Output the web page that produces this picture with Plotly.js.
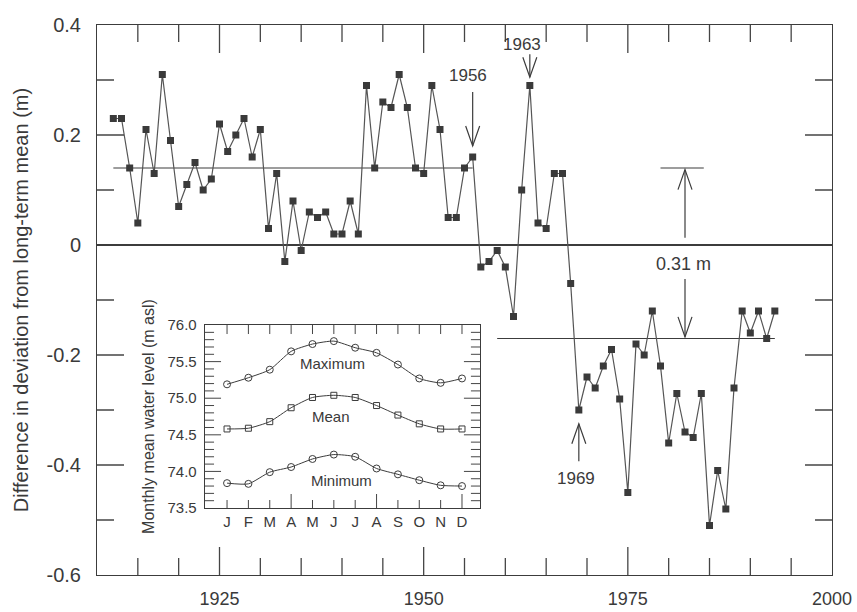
<!DOCTYPE html>
<html><head><meta charset="utf-8">
<script src="https://cdn.plot.ly/plotly-3.0.1.min.js"></script>
<style>html,body{margin:0;padding:0;background:#fff}#chart{width:857px;height:612px}</style>
</head><body><div id="chart"></div>
<script>
// ---- Main series: yearly deviation (m) ----
const years = [1912,1913,1914,1915,1916,1917,1918,1919,1920,1921,1922,1923,1924,1925,1926,1927,1928,1929,1930,
  1931,1932,1933,1934,1935,1936,1937,1938,1939,1940,1941,1942,1943,1944,1945,1946,1947,1948,1949,1950,
  1951,1952,1953,1954,1955,1956,1957,1958,1959,1960,1961,1962,1963,1964,1965,1966,1967,1968,1969,1970,
  1971,1972,1973,1974,1975,1976,1977,1978,1979,1980,1981,1982,1983,1984,1985,1986,1987,1988,1989,1990,
  1991,1992,1993];
const deviation = [0.23,0.23,0.14,0.04,0.21,0.13,0.31,0.19,0.07,0.11,0.15,0.10,0.12,0.22,0.17,0.20,0.23,0.16,0.21,
  0.03,0.13,-0.03,0.08,-0.01,0.06,0.05,0.06,0.02,0.02,0.08,0.02,0.29,0.14,0.26,0.25,0.31,0.25,0.14,0.13,
  0.29,0.21,0.05,0.05,0.14,0.16,-0.04,-0.03,-0.01,-0.04,-0.13,0.10,0.29,0.04,0.03,0.13,0.13,-0.07,-0.30,-0.24,
  -0.26,-0.22,-0.19,-0.28,-0.45,-0.18,-0.20,-0.12,-0.22,-0.36,-0.27,-0.34,-0.35,-0.27,-0.51,-0.41,-0.48,-0.26,-0.12,-0.16,
  -0.12,-0.17,-0.12];
// period means
const earlyPeriod = [1912, 1956];
const earlyMean = [0.14, 0.14];
const latePeriod = [1959, 1993];
const lateMean = [-0.17, -0.17];
const yTickVals = [-0.6, -0.4, -0.2, 0, 0.2, 0.4];
const yTickText = ['-0.6', '-0.4', '-0.2', '0', '0.2', '0.4'];
const xTickVals = [1925, 1950, 1975, 2000];
const xTickText = ['1925', '1950', '1975', '2000'];
// tick-mark positions
const xMinorTicks = [1915,1920,1930,1935,1940,1945,1955,1960,1965,1970,1980,1985,1990,1995];
const xMajorTicks = [1925,1950,1975];
const yMinorTicks = [-0.5,-0.3,-0.1,0.1,0.3];
const yMajorTicks = [-0.4,-0.2,0.2];

// ---- Inset: monthly water level (m asl) ----
const months = [1,2,3,4,5,6,7,8,9,10,11,12];
const monthLabels = ['J','F','M','A','M','J','J','A','S','O','N','D'];
const maxLevel  = [75.19,75.28,75.39,75.64,75.74,75.78,75.69,75.62,75.46,75.27,75.21,75.27];
const meanLevel = [74.58,74.59,74.68,74.87,75.01,75.04,75.01,74.90,74.77,74.65,74.58,74.58];
const minLevel  = [73.84,73.83,73.99,74.06,74.17,74.23,74.20,74.04,73.96,73.88,73.81,73.80];
const insetTickVals = [73.5, 74.0, 74.5, 75.0, 75.5, 76.0];
const insetTickText = ['73.5', '74.0', '74.5', '75.0', '75.5', '76.0'];
const insetLongTickMonths = [4, 8, 12];
const insetShortTickMonths = [1, 2, 3, 5, 6, 7, 9, 10, 11];
const insetMinorTicks = [73.6,73.7,73.8,73.9,74.1,74.2,74.3,74.4,74.6,74.7,74.8,74.9,75.1,75.2,75.3,75.4,75.6,75.7,75.8,75.9];
const insetMajorTicks = [74.0, 74.5, 75.0, 75.5];

const INK = '#3a3a3a';
const LINE = '#3c3c3c';
const TICK = '#454545';
const FONT = 'Liberation Sans, Arial, Helvetica, sans-serif';
const NB = '\u00a0';

const traces = [
  {x: earlyPeriod, y: earlyMean, mode: 'lines', line: {color: LINE, width: 1.2}, hoverinfo: 'skip'},
  {x: latePeriod, y: lateMean, mode: 'lines', line: {color: LINE, width: 1.2}, hoverinfo: 'skip'},
  {x: years, y: deviation, mode: 'lines+markers',
   line: {color: '#555', width: 1.2},
   marker: {symbol: 'square', size: 7, color: INK}},
  {x: months, y: maxLevel, xaxis: 'x2', yaxis: 'y2', mode: 'lines+markers',
   line: {color: LINE, width: 1, shape: 'spline', smoothing: 0.6},
   marker: {symbol: 'circle-open', size: 7, color: LINE, line: {width: 1}}},
  {x: months, y: meanLevel, xaxis: 'x2', yaxis: 'y2', mode: 'lines+markers',
   line: {color: LINE, width: 1, shape: 'spline', smoothing: 0.6},
   marker: {symbol: 'square-open', size: 6, color: LINE, line: {width: 1}}},
  {x: months, y: minLevel, xaxis: 'x2', yaxis: 'y2', mode: 'lines+markers',
   line: {color: LINE, width: 1, shape: 'spline', smoothing: 0.6},
   marker: {symbol: 'circle-open', size: 7, color: LINE, line: {width: 1}}},
  // carrier for the label-only overlay axes
  {x: [], y: [], xaxis: 'x3', yaxis: 'y3', mode: 'markers', hoverinfo: 'skip'}
];

// ---- inside tick marks: line markers centred on the frame, clipped to the plot area ----
// a line-ns / line-ew marker is 1.4 x size long, so half of it (0.7 x size) shows inside
function tickTrace(positions, edge, vertical, len, xa, ya, w) {
  const n = positions.length;
  const t = {mode: 'markers', hoverinfo: 'skip', cliponaxis: true,
    marker: {symbol: vertical ? 'line-ns-open' : 'line-ew-open', size: len / 0.7,
             color: TICK, line: {color: TICK, width: w}}};
  if (xa) t.xaxis = xa;
  if (ya) t.yaxis = ya;
  if (vertical) { t.x = positions; t.y = new Array(n).fill(edge); }
  else { t.y = positions; t.x = new Array(n).fill(edge); }
  return t;
}
[-0.6, 0.4].forEach(e => {
  traces.push(tickTrace(xMinorTicks, e, true, 17, null, null, 1.3));
  traces.push(tickTrace(xMajorTicks, e, true, 28, null, null, 1.3));
});
[1910, 2000].forEach(e => {
  traces.push(tickTrace(yMinorTicks, e, false, 17, null, null, 1.3));
  traces.push(tickTrace(yMajorTicks, e, false, 27, null, null, 1.3));
});
traces.push(tickTrace(insetShortTickMonths, 73.5, true, 8, 'x2', 'y2', 1));
traces.push(tickTrace(insetLongTickMonths, 73.5, true, 14, 'x2', 'y2', 1));
traces.push(tickTrace(months, 76.0, true, 9, 'x2', 'y2', 1));
[-0.03, 12.84].forEach(e => {
  traces.push(tickTrace(insetMinorTicks, e, false, 9, 'x2', 'y2', 1));
  traces.push(tickTrace(insetMajorTicks, e, false, 16, 'x2', 'y2', 1));
});

// ---- arrows ----
function shaft(x, y0, y1) {
  return {type: 'line', xref: 'x', yref: 'y', x0: x, x1: x, y0: y0, y1: y1,
          line: {color: LINE, width: 1.2}};
}
function head(x, y, dir) {
  const s = dir === 'down' ? 20 : -20;
  return {type: 'path', xref: 'x', yref: 'y', xsizemode: 'pixel', ysizemode: 'pixel',
          xanchor: x, yanchor: y, path: 'M-7,' + s + 'L0,0L7,' + s,
          line: {color: LINE, width: 1.2}};
}
const shapes = [
  shaft(1956, 0.278, 0.18), head(1956, 0.18, 'down'),
  shaft(1963, 0.347, 0.305), head(1963, 0.305, 'down'),
  shaft(1969, -0.393, -0.325), head(1969, -0.325, 'up'),
  {type: 'line', xref: 'x', yref: 'y', x0: 1979, x1: 1984.3, y0: 0.14, y1: 0.14, line: {color: LINE, width: 1.2}},
  shaft(1982, 0.013, 0.137), head(1982, 0.137, 'up'),
  shaft(1982, -0.062, -0.167), head(1982, -0.167, 'down')
];

function label(text, x, y, size, xref, yref) {
  return {text: text, x: x, y: y, xref: xref || 'x', yref: yref || 'y', showarrow: false,
          font: {family: FONT, size: size, color: INK}};
}
const annotations = [
  label('1956', 1955.4, 0.309, 17),
  label('1963', 1962.0, 0.365, 17),
  label('1969', 1968.6, -0.424, 17),
  label('0.31 m', 1981.8, -0.035, 18),
  label('Maximum', 5.92, 75.48, 15, 'x2', 'y2'),
  label('Mean', 5.87, 74.75, 15, 'x2', 'y2'),
  label('Minimum', 6.34, 73.87, 15, 'x2', 'y2')
];

const layout = {
  width: 857, height: 612,
  margin: {l: 97, r: 25, t: 25, b: 37},
  paper_bgcolor: '#fff', plot_bgcolor: '#fff',
  showlegend: false,
  font: {family: FONT, color: INK},
  xaxis: {
    range: [1910, 2000], domain: [0, 1], anchor: 'y',
    showticklabels: false, ticks: '',
    showline: true, linecolor: LINE, linewidth: 1.2, mirror: true,
    showgrid: false, zeroline: false
  },
  yaxis: {
    range: [-0.6, 0.4], domain: [0, 1], anchor: 'x',
    showticklabels: false, ticks: '',
    showline: true, linecolor: LINE, linewidth: 1.2, mirror: true,
    showgrid: false, zeroline: true, zerolinecolor: LINE, zerolinewidth: 1.2
  },
  // overlay axes that carry the main tick labels and title
  xaxis3: {
    overlaying: 'x', anchor: 'y3', side: 'bottom', range: [1910, 2000],
    tickmode: 'array', tickvals: xTickVals, ticktext: xTickText,
    ticks: 'outside', ticklen: 7, tickcolor: 'rgba(0,0,0,0)',
    showline: false, showgrid: false, zeroline: false,
    tickfont: {family: FONT, size: 18, color: INK}
  },
  yaxis3: {
    overlaying: 'y', anchor: 'x3', side: 'left', range: [-0.6, 0.4],
    tickmode: 'array', tickvals: yTickVals, ticktext: yTickText,
    ticks: 'outside', ticklen: 11, tickcolor: 'rgba(0,0,0,0)',
    showline: false, showgrid: false, zeroline: false,
    tickfont: {family: FONT, size: 20, color: INK},
    title: {text: 'Difference in deviation from long-term mean (m)', font: {family: FONT, size: 20, color: INK}, standoff: 12}
  },
  xaxis2: {
    domain: [0.147, 0.521], anchor: 'y2', range: [-0.03, 12.84],
    tickmode: 'array', tickvals: months, ticktext: monthLabels, ticks: '',
    showline: true, linecolor: LINE, linewidth: 1.2, mirror: true,
    showgrid: false, zeroline: false,
    tickfont: {family: FONT, size: 15, color: INK}
  },
  yaxis2: {
    domain: [0.1218, 0.4545], anchor: 'x2', range: [73.5, 76.0],
    tickmode: 'array', tickvals: insetTickVals, ticktext: insetTickText.map(t => t + NB), ticks: '',
    showline: true, linecolor: LINE, linewidth: 1.2, mirror: true,
    showgrid: false, zeroline: false,
    tickfont: {family: FONT, size: 15, color: INK},
    title: {text: 'Monthly mean water level (m asl)', font: {family: FONT, size: 16, color: INK}, standoff: 8}
  },
  shapes: shapes,
  annotations: annotations
};

Plotly.newPlot('chart', traces, layout, {displayModeBar: false, staticPlot: true});
</script>
</body></html>
